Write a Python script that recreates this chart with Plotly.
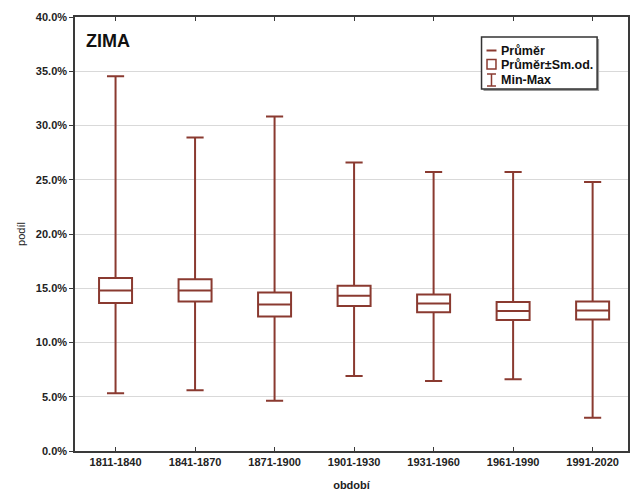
import plotly.graph_objects as go

# Winter share per 30-year period (percent)
periods = ["1811-1840", "1841-1870", "1871-1900", "1901-1930",
           "1931-1960", "1961-1990", "1991-2020"]
mean_pct = [14.8, 14.8, 13.5, 14.3, 13.6, 12.9, 12.95]
sd_pct = [1.15, 1.03, 1.11, 0.93, 0.82, 0.83, 0.82]
min_pct = [5.32, 5.6, 4.64, 6.92, 6.46, 6.61, 3.07]
max_pct = [34.53, 28.9, 30.84, 26.6, 25.71, 25.71, 24.79]

RED = "#8a3a30"
AXIS = "#3a3a3a"
FONT = "Liberation Sans, Arial, sans-serif"

W, H = 630, 493
ML, MR, MT, MB = 75, 0, 17, 42
PW, PH = W - ML - MR, H - MT - MB


def px(x):
    return (x - ML) / PW


def py(y):
    return (H - MB - y) / PH


lower_sd = [m - s for m, s in zip(mean_pct, sd_pct)]
upper_sd = [m + s for m, s in zip(mean_pct, sd_pct)]

fig = go.Figure(
    go.Box(
        x=periods,
        q1=lower_sd,
        median=mean_pct,
        q3=upper_sd,
        lowerfence=min_pct,
        upperfence=max_pct,
        width=0.415,
        whiskerwidth=0.52,
        line=dict(color=RED, width=2),
        fillcolor="white",
        boxpoints=False,
        showlegend=False,
    )
)

# legend frame with drop shadow
lx0, lx1, ly0, ly1 = 483, 599, 37, 89
shapes = [
    dict(type="rect", xref="paper", yref="paper",
         x0=px(lx0 + 2), x1=px(lx1 + 2), y0=py(ly1 + 2), y1=py(ly0 + 2),
         line=dict(width=0), fillcolor="#9a9a9a", layer="above"),
    dict(type="rect", xref="paper", yref="paper",
         x0=px(lx0), x1=px(lx1), y0=py(ly1), y1=py(ly0),
         line=dict(color="#333333", width=1.5), fillcolor="white", layer="above"),
    # mean symbol
    dict(type="line", xref="paper", yref="paper",
         x0=px(488), x1=px(498), y0=py(50.5), y1=py(50.5),
         line=dict(color=RED, width=2), layer="above"),
    # mean ± sd symbol
    dict(type="rect", xref="paper", yref="paper",
         x0=px(488.5), x1=px(497.5), y0=py(69), y1=py(59.5),
         line=dict(color=RED, width=1.5), fillcolor="white", layer="above"),
    # min-max symbol
    dict(type="line", xref="paper", yref="paper",
         x0=px(493), x1=px(493), y0=py(74), y1=py(86),
         line=dict(color=RED, width=1.5), layer="above"),
    dict(type="line", xref="paper", yref="paper",
         x0=px(488.5), x1=px(497.5), y0=py(74), y1=py(74),
         line=dict(color=RED, width=1.5), layer="above"),
    dict(type="line", xref="paper", yref="paper",
         x0=px(488.5), x1=px(497.5), y0=py(86), y1=py(86),
         line=dict(color=RED, width=1.5), layer="above"),
]

legend_labels = ["Průměr", "Průměr±Sm.od.", "Min-Max"]
legend_rows = [50.5, 64.5, 80]
annotations = [
    dict(text=t, xref="paper", yref="paper", x=px(501), y=py(yy),
         xanchor="left", yanchor="middle", showarrow=False,
         font=dict(family=FONT, size=12.5, color="#111111", weight="bold"))
    for t, yy in zip(legend_labels, legend_rows)
]
annotations.append(
    dict(text="ZIMA", xref="paper", yref="paper", x=px(84), y=py(41),
         xanchor="left", yanchor="middle", showarrow=False,
         font=dict(family=FONT, size=18, color="#111111", weight="bold"))
)

tickfont = dict(family=FONT, size=11, color="#222222", weight="bold")

fig.update_layout(
    width=W, height=H, autosize=False,
    margin=dict(l=ML, r=MR, t=MT, b=MB, pad=0),
    paper_bgcolor="white", plot_bgcolor="white",
    shapes=shapes, annotations=annotations,
    xaxis=dict(
        type="category", range=[-0.51, 6.445],
        showline=True, linecolor=AXIS, linewidth=1.5, mirror="ticks",
        ticks="inside", ticklen=4, tickcolor=AXIS, tickwidth=1,
        showgrid=False, tickfont=tickfont,
        title=dict(text="období", standoff=14,
                   font=dict(family=FONT, size=11, color="#222222", weight="bold")),
    ),
    yaxis=dict(
        range=[0, 40], dtick=5, tickformat=".1f", ticksuffix="%",
        showline=True, linecolor=AXIS, linewidth=1.5, mirror=True,
        ticks="outside", ticklen=4, tickcolor=AXIS, tickwidth=1,
        showgrid=True, gridcolor="#d9d9d9", gridwidth=1, zeroline=False,
        tickfont=tickfont,
        title=dict(text="podíl", standoff=8,
                   font=dict(family=FONT, size=11, color="#222222")),
    ),
)

fig.write_html("out.html")
